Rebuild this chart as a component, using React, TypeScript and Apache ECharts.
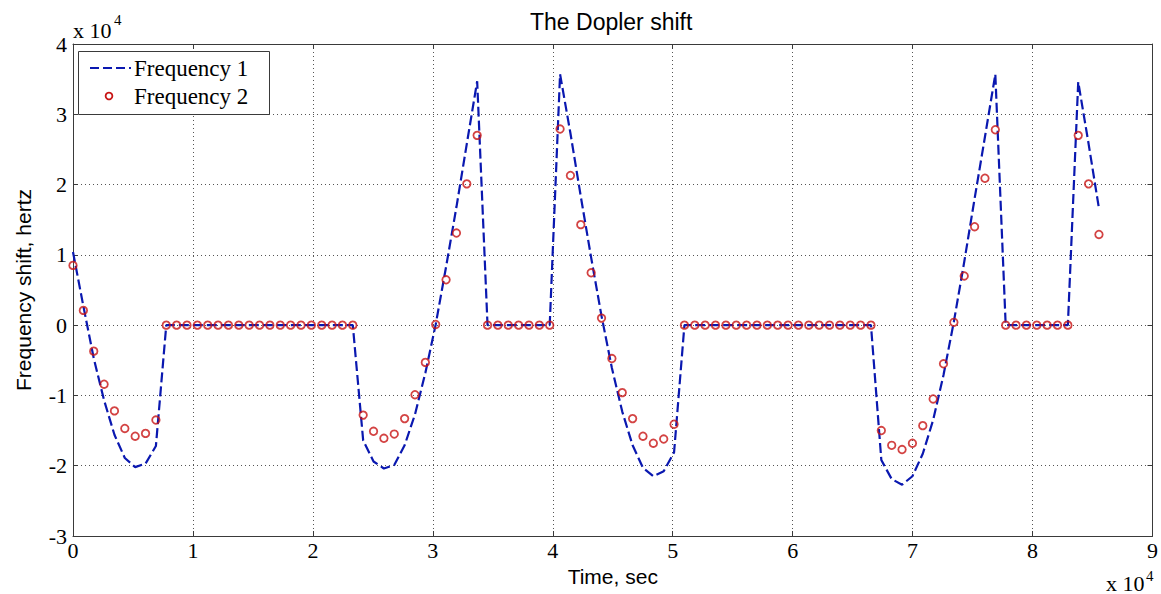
import React, { useEffect, useRef } from "react";
import * as echarts from "echarts";

// Time samples, seconds
const TIME = [
  0, 864, 1728, 2592, 3456, 4320, 5184, 6048, 6912, 7776,
  8640, 9504, 10368, 11232, 12096, 12960, 13824, 14688, 15552, 16416,
  17280, 18144, 19008, 19872, 20736, 21600, 22464, 23328, 24192, 25056,
  25920, 26784, 27648, 28512, 29376, 30240, 31104, 31968, 32832, 33696,
  34560, 35424, 36288, 37152, 38016, 38880, 39744, 40608, 41472, 42336,
  43200, 44064, 44928, 45792, 46656, 47520, 48384, 49248, 50112, 50976,
  51840, 52704, 53568, 54432, 55296, 56160, 57024, 57888, 58752, 59616,
  60480, 61344, 62208, 63072, 63936, 64800, 65664, 66528, 67392, 68256,
  69120, 69984, 70848, 71712, 72576, 73440, 74304, 75168, 76032, 76896,
  77760, 78624, 79488, 80352, 81216, 82080, 82944, 83808, 84672, 85536,
];

// Frequency 1 (dashed blue line), hertz
const FREQ1 = [
  10400, 2700, -4700, -10700, -15600, -18900, -20200, -19700, -17200,
  0, 0, 0, 0, 0, 0, 0, 0, 0, 0, 0, 0, 0, 0, 0, 0, 0, 0, 0,
  -16400, -19400, -20400, -19900, -17100, -12700, -6800, 100, 8300, 16800, 25800, 34700,
  0, 0, 0, 0, 0, 0, 0,
  35700, 27300, 18300, 9600, 1300, -6100, -12300, -17100, -20300, -21500, -20800, -18100,
  0, 0, 0, 0, 0, 0, 0, 0, 0, 0, 0, 0, 0, 0, 0, 0, 0, 0, 0,
  -19200, -21900, -22700, -21500, -18300, -13500, -7100, 500, 9000, 18000, 26800, 35700,
  0, 0, 0, 0, 0, 0, 0,
  34600, 25800, 16600,
];

// Frequency 2 (red circles), hertz
const FREQ2 = [
  8500, 2100, -3700, -8400, -12200, -14700, -15800, -15400, -13500,
  0, 0, 0, 0, 0, 0, 0, 0, 0, 0, 0, 0, 0, 0, 0, 0, 0, 0, 0,
  -12800, -15100, -16100, -15500, -13300, -9900, -5300, 100, 6450, 13100, 20100, 27000,
  0, 0, 0, 0, 0, 0, 0,
  27900, 21300, 14300, 7450, 1000, -4750, -9600, -13300, -15800, -16800, -16200, -14100,
  0, 0, 0, 0, 0, 0, 0, 0, 0, 0, 0, 0, 0, 0, 0, 0, 0, 0, 0,
  -15000, -17100, -17700, -16800, -14300, -10500, -5500, 400, 7000, 14000, 20900, 27800,
  0, 0, 0, 0, 0, 0, 0,
  27000, 20100, 12900,
];

const X_MIN = 0;
const X_MAX = 90000;
const X_STEP = 10000;
const Y_MIN = -30000;
const Y_MAX = 40000;
const Y_STEP = 10000;
const SCALE = 10000;

const TITLE = "The Dopler shift";
const X_NAME = "Time, sec";
const Y_NAME = "Frequency shift, hertz";
const LEGEND = ["Frequency 1", "Frequency 2"];

const BLUE = "#0a18b0";
const RED = "#c81414";
const AXIS = "#3a3a3a";
const SERIF = "Liberation Serif";
const SANS = "Liberation Sans";

export default function App() {
  const ref = useRef<HTMLDivElement>(null);

  useEffect(() => {
    if (!ref.current) return;
    const chart = echarts.init(ref.current, undefined, { renderer: "svg" });

    const axisLine = { show: true, onZero: false, lineStyle: { color: AXIS, width: 1 } };
    const axisTick = { show: true, inside: true, length: 5, lineStyle: { color: AXIS, width: 1 } };
    const splitLine = { show: true, lineStyle: { color: "#555", width: 1, type: [1, 3] } };
    const tickFmt = (v: number) => String(v / SCALE);

    const option: any = {
      animation: false,
      backgroundColor: "#fff",
      title: {
        text: TITLE,
        left: 530,
        top: 10,
        padding: 0,
        textStyle: { fontFamily: SANS, fontSize: 23, fontWeight: "normal", color: "#000" },
      },
      grid: { left: 73, right: 5, top: 44, bottom: 58, containLabel: false },
      xAxis: [
        {
          type: "value",
          position: "bottom",
          min: X_MIN,
          max: X_MAX,
          interval: X_STEP,
          axisLine,
          axisTick,
          splitLine,
          axisLabel: { formatter: tickFmt, fontFamily: SERIF, fontSize: 22, color: "#000", margin: 3 },
          name: X_NAME,
          nameLocation: "middle",
          nameGap: 29,
          nameTextStyle: { fontFamily: SANS, fontSize: 21, color: "#000" },
        },
        {
          type: "value",
          position: "top",
          min: X_MIN,
          max: X_MAX,
          interval: X_STEP,
          axisLine,
          axisTick,
          splitLine: { show: false },
          axisLabel: { show: false },
        },
      ],
      yAxis: [
        {
          type: "value",
          position: "left",
          min: Y_MIN,
          max: Y_MAX,
          interval: Y_STEP,
          axisLine,
          axisTick,
          splitLine,
          axisLabel: { formatter: tickFmt, fontFamily: SERIF, fontSize: 22, color: "#000", margin: 6 },
          name: Y_NAME,
          nameLocation: "middle",
          nameGap: 39,
          nameTextStyle: { fontFamily: SANS, fontSize: 21, color: "#000" },
        },
        {
          type: "value",
          position: "right",
          min: Y_MIN,
          max: Y_MAX,
          interval: Y_STEP,
          axisLine,
          axisTick,
          splitLine: { show: false },
          axisLabel: { show: false },
        },
      ],
      series: [
        {
          name: LEGEND[0],
          type: "line",
          xAxisIndex: 0,
          yAxisIndex: 0,
          data: TIME.map((t, i) => [t, FREQ1[i]]),
          symbol: "none",
          showSymbol: false,
          silent: true,
          lineStyle: { color: BLUE, width: 2.2, type: [10, 4] },
          z: 2,
        },
        {
          name: LEGEND[1],
          type: "scatter",
          xAxisIndex: 0,
          yAxisIndex: 0,
          data: TIME.map((t, i) => [t, FREQ2[i]]),
          symbol: "circle",
          symbolSize: 7.5,
          silent: true,
          itemStyle: { color: "rgba(255,255,255,0)", borderColor: RED, borderWidth: 1.8 },
          z: 3,
        },
      ],
      graphic: [
        // exponent labels
        {
          type: "text",
          x: 73,
          y: 30.5,
          z: 50,
          style: { text: "x 10", font: `22px '${SERIF}'`, fill: "#000", verticalAlign: "middle", align: "left" },
        },
        {
          type: "text",
          x: 114,
          y: 20,
          z: 50,
          style: { text: "4", font: `15px '${SERIF}'`, fill: "#000", verticalAlign: "middle", align: "left" },
        },
        {
          type: "text",
          x: 1106,
          y: 583,
          z: 50,
          style: { text: "x 10", font: `22px '${SERIF}'`, fill: "#000", verticalAlign: "middle", align: "left" },
        },
        {
          type: "text",
          x: 1146,
          y: 576,
          z: 50,
          style: { text: "4", font: `15px '${SERIF}'`, fill: "#000", verticalAlign: "middle", align: "left" },
        },
        // legend
        {
          type: "rect",
          z: 100,
          shape: { x: 78.5, y: 51.5, width: 191, height: 63 },
          style: { fill: "#fff", stroke: AXIS, lineWidth: 1 },
        },
        {
          type: "line",
          z: 101,
          shape: { x1: 90, y1: 68, x2: 131, y2: 68 },
          style: { stroke: BLUE, lineWidth: 2, lineDash: [9, 4] },
        },
        {
          type: "text",
          z: 101,
          x: 134,
          y: 68,
          style: { text: LEGEND[0], font: `23px '${SERIF}'`, fill: "#000", verticalAlign: "middle", align: "left" },
        },
        {
          type: "circle",
          z: 101,
          shape: { cx: 109, cy: 96, r: 3.4 },
          style: { fill: "none", stroke: RED, lineWidth: 1.8 },
        },
        {
          type: "text",
          z: 101,
          x: 134,
          y: 96,
          style: { text: LEGEND[1], font: `23px '${SERIF}'`, fill: "#000", verticalAlign: "middle", align: "left" },
        },
      ],
    };

    chart.setOption(option);
    return () => chart.dispose();
  }, []);

  return (
    <div
      ref={ref}
      style={{ position: "fixed", left: 0, top: 0, width: 1161, height: 594, background: "#fff" }}
    />
  );
}
